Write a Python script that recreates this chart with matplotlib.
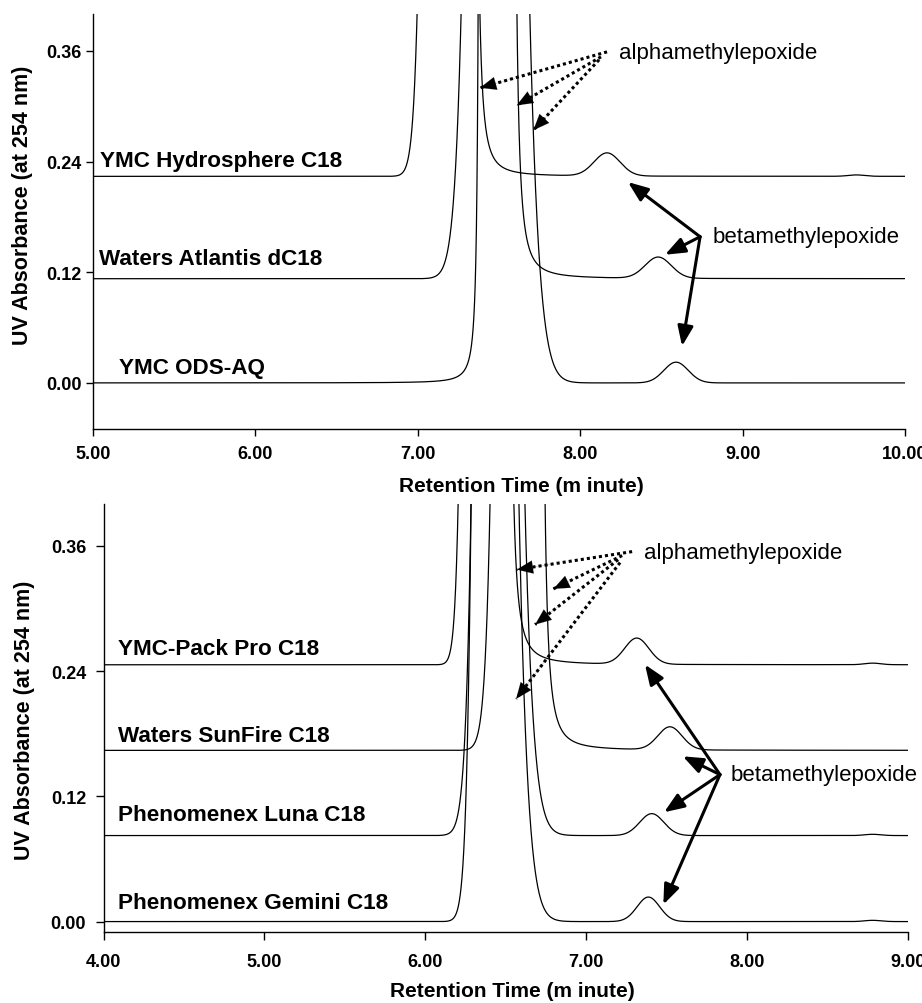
import numpy as np
import matplotlib
matplotlib.use('Agg')
import matplotlib.pyplot as plt

plt.rcParams['font.family'] = ['Liberation Sans', 'DejaVu Sans']

# ---- peak table, upper panel (5-10 min) ----
top_names = ['YMC Hydrosphere C18', 'Waters Atlantis dC18', 'YMC ODS-AQ']
top_base = [0.224, 0.113, 0.0]
top_front = [7.257, 7.616, 7.390]      # main peak, front edge centre
top_front_w = [0.085, 0.12, 0.0027]
top_front_kind = ['g', 'g', 'l']
top_tail = [7.339, 7.572, 7.242]       # main peak, tail edge centre
top_tail_w = [0.00407, 0.00462, 0.16]
top_tail_kind = ['l', 'l', 'g']
top_beta_rt = [8.165, 8.48, 8.59]
top_beta_h = [0.025, 0.023, 0.0225]
top_beta_s = [0.08, 0.08, 0.075]
top_bump_rt = [9.70, 9.70, 9.70]
top_bump_h = [0.0015, 0.0, 0.0]

# ---- peak table, lower panel (4-9 min) ----
bot_names = ['YMC-Pack Pro C18', 'Waters SunFire C18', 'Phenomenex Luna C18', 'Phenomenex Gemini C18']
bot_base = [0.246, 0.164, 0.0824, 0.0]
bot_front = [6.419, 6.685, 6.566, 6.505]
bot_front_w = [0.069, 0.095, 0.098, 0.079]
bot_front_kind = ['g', 'g', 'g', 'g']
bot_tail = [6.499, 6.703, 6.187, 6.162]
bot_tail_w = [0.0045, 0.0045, 0.15, 0.15]
bot_tail_kind = ['l', 'l', 'g', 'g']
bot_beta_rt = [7.314, 7.52, 7.407, 7.386]
bot_beta_h = [0.025, 0.022, 0.021, 0.0235]
bot_beta_s = [0.075, 0.075, 0.075, 0.07]
bot_bump_rt = [8.78, 8.78, 8.78, 8.78]
bot_bump_h = [0.0015, 0.0, 0.0012, 0.0012]

main_height = 20.0   # main peak is far off scale

top_xticks = [5, 6, 7, 8, 9, 10]
top_xlabels = ['5.00', '6.00', '7.00', '8.00', '9.00', '10.00']
bot_xticks = [4, 5, 6, 7, 8, 9]
bot_xlabels = ['4.00', '5.00', '6.00', '7.00', '8.00', '9.00']
yticks = [0.0, 0.12, 0.24, 0.36]
ylabels = ['0.00', '0.12', '0.24', '0.36']


def edge(d, w, kind):
    if kind == 'g':
        return np.exp(-0.5 * (d / w) ** 2)
    return 1.0 / (1.0 + (d / w) ** 2)


def trace(t, i, base, fc, fw, fk, tc, tw, tk, brt, bh, bs, srt, sh):
    left = edge(np.clip(fc[i] - t, 0, None), fw[i], fk[i])
    right = edge(np.clip(t - tc[i], 0, None), tw[i], tk[i])
    y = base[i] + main_height * np.minimum(left, right)
    y = y + bh[i] * np.exp(-0.5 * ((t - brt[i]) / bs[i]) ** 2)
    y = y + sh[i] * np.exp(-0.5 * ((t - srt[i]) / 0.05) ** 2)
    return y


def style_axes(ax, xlim, ylim, xticks, xlabels, xpad, ypad, tlen):
    ax.set_xlim(*xlim)
    ax.set_ylim(*ylim)
    for s in ['top', 'right']:
        ax.spines[s].set_visible(False)
    for s in ['left', 'bottom']:
        ax.spines[s].set_linewidth(1.0)
    ax.set_xticks(xticks)
    ax.set_xticklabels(xlabels, fontsize=13, fontweight='bold')
    ax.set_yticks(yticks)
    ax.set_yticklabels(ylabels, fontsize=13, fontweight='bold')
    ax.tick_params(axis='x', length=tlen, width=1.0, pad=xpad)
    ax.tick_params(axis='y', length=tlen, width=1.0, pad=ypad)


def arrow(ax, tip, tail, dotted):
    if dotted:
        # dotted shaft, solid head
        ax.plot([tail[0], tip[0]], [tail[1], tip[1]], color='black', lw=2.2,
                linestyle=(0, (1, 1)), dash_capstyle='butt')
        back = (tip[0] + 0.3 * (tail[0] - tip[0]), tip[1] + 0.3 * (tail[1] - tip[1]))
        ax.annotate('', xy=tip, xytext=back,
                    arrowprops=dict(arrowstyle='-|>,head_length=1.15,head_width=0.47',
                                    lw=0.1, color='black', shrinkA=0, shrinkB=0,
                                    mutation_scale=10))
    else:
        ax.annotate('', xy=tip, xytext=tail,
                    arrowprops=dict(arrowstyle='-|>,head_length=1.2,head_width=0.47',
                                    lw=2.2, color='black', shrinkA=0, shrinkB=0,
                                    mutation_scale=10))


fig = plt.figure(figsize=(9.22, 10.04), dpi=100)
ax1 = fig.add_axes([0.1009, 0.5717, 0.8807, 0.4133])
ax2 = fig.add_axes([0.1123, 0.0707, 0.8726, 0.4263])

# upper panel
t1 = np.linspace(5, 10, 8001)
for i in range(len(top_names)):
    y = trace(t1, i, top_base, top_front, top_front_w, top_front_kind,
              top_tail, top_tail_w, top_tail_kind,
              top_beta_rt, top_beta_h, top_beta_s, top_bump_rt, top_bump_h)
    ax1.plot(t1, y, color='black', lw=0.9)

top_label_x = [5.043, 5.039, 5.162]
top_label_y = [0.235, 0.1294, 0.0108]
for name, x, y in zip(top_names, top_label_x, top_label_y):
    ax1.text(x, y, name, fontsize=16.2, fontweight='bold', va='baseline', ha='left')

top_alpha_tips = [(7.383, 0.320), (7.609, 0.301), (7.711, 0.274)]
top_alpha_tails = [(8.165, 0.359), (8.128, 0.3536), (8.116, 0.3504)]
for tip, tail in zip(top_alpha_tips, top_alpha_tails):
    arrow(ax1, tip, tail, True)
ax1.text(8.239, 0.358, 'alphamethylepoxide', fontsize=16, va='center', ha='left')

top_beta_tips = [(8.294, 0.2178), (8.522, 0.139), (8.627, 0.0399)]
for tip in top_beta_tips:
    arrow(ax1, tip, (8.738, 0.1585), False)
ax1.text(8.812, 0.1585, 'betamethylepoxide', fontsize=16, va='center', ha='left')

style_axes(ax1, (5, 10), (-0.05, 0.40), top_xticks, top_xlabels, 6.8, 3, 5)
ax1.set_ylabel('UV Absorbance (at 254 nm)', fontsize=15.5, fontweight='bold')
ax1.yaxis.set_label_coords(-0.0874, 0.542)
ax1.yaxis.label.set_va('center')
ax1.set_xlabel('Retention Time (m inute)', fontsize=15, fontweight='bold')
ax1.xaxis.set_label_coords(0.527, -0.137)
ax1.xaxis.label.set_va('center')

# lower panel
t2 = np.linspace(4, 9, 8001)
for i in range(len(bot_names)):
    y = trace(t2, i, bot_base, bot_front, bot_front_w, bot_front_kind,
              bot_tail, bot_tail_w, bot_tail_kind,
              bot_beta_rt, bot_beta_h, bot_beta_s, bot_bump_rt, bot_bump_h)
    ax2.plot(t2, y, color='black', lw=0.9)

bot_label_x = [4.092, 4.092, 4.092, 4.092]
bot_label_y = [0.2567, 0.1727, 0.097, 0.0131]
for name, x, y in zip(bot_names, bot_label_x, bot_label_y):
    ax2.text(x, y, name, fontsize=16.2, fontweight='bold', va='baseline', ha='left')

bot_alpha_tips = [(6.568, 0.3372), (6.7955, 0.3187), (6.682, 0.2845), (6.564, 0.2133)]
bot_alpha_tails = [(7.285, 0.3544), (7.223, 0.3506), (7.198, 0.3467), (7.21, 0.3439)]
for tip, tail in zip(bot_alpha_tips, bot_alpha_tails):
    arrow(ax2, tip, tail, True)
ax2.text(7.359, 0.3534, 'alphamethylepoxide', fontsize=16, va='center', ha='left')

bot_beta_tips = [(7.365, 0.2462), (7.60, 0.1583), (7.4835, 0.1047), (7.479, 0.0163)]
for tip in bot_beta_tips:
    arrow(ax2, tip, (7.831, 0.1408), False)
ax2.text(7.898, 0.1408, 'betamethylepoxide', fontsize=16, va='center', ha='left')

style_axes(ax2, (4, 9), (-0.01, 0.40), bot_xticks, bot_xlabels, 9, 6.5, 6)
ax2.set_ylabel('UV Absorbance (at 254 nm)', fontsize=15.5, fontweight='bold')
ax2.yaxis.set_label_coords(-0.0988, 0.498)
ax2.yaxis.label.set_va('center')
ax2.set_xlabel('Retention Time (m inute)', fontsize=15, fontweight='bold')
ax2.xaxis.set_label_coords(0.508, -0.1355)
ax2.xaxis.label.set_va('center')

fig.savefig('out.png', dpi=100)
